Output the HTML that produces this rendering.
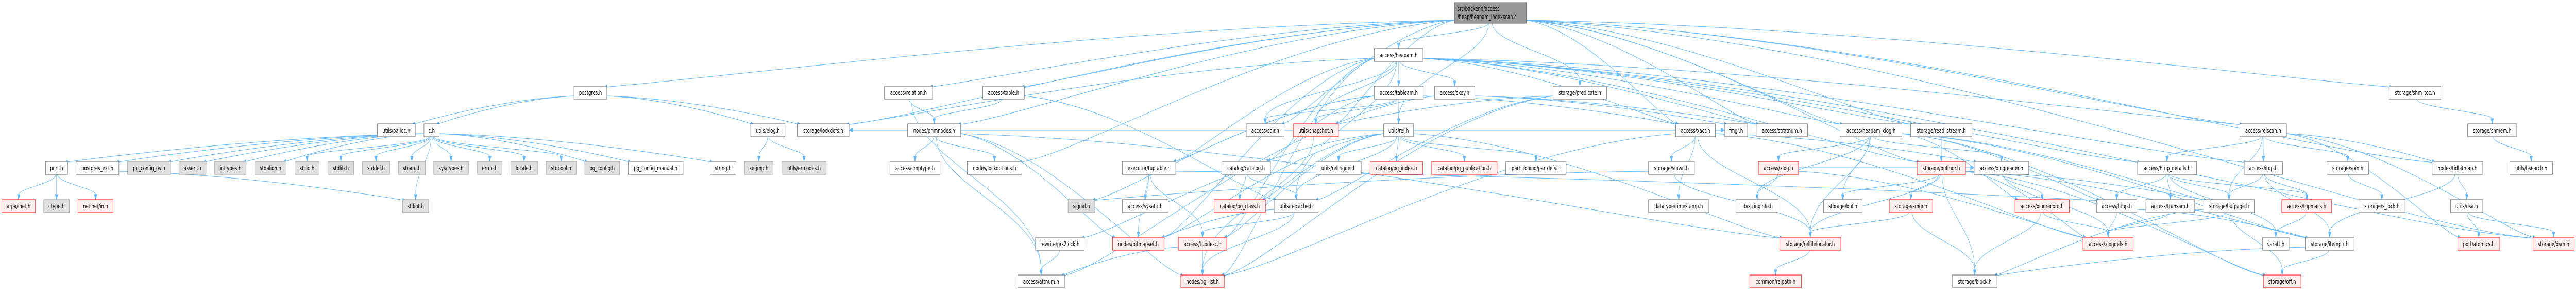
<!DOCTYPE html>
<html><head><meta charset="utf-8">
<style>
html,body{margin:0;padding:0;background:#fff;width:100vw;height:100vh;overflow:hidden;}
svg{display:block;width:100vw;height:100vh;}
text{font-family:"DejaVu Sans","Liberation Sans",sans-serif;font-size:12px;fill:#000;text-anchor:middle;}
.w{fill:#fff;stroke:#666;stroke-width:1;}
.g{fill:#e0e0e0;stroke:#999;stroke-width:1;}
.r{fill:#fff0f0;stroke:#f00;stroke-width:1;}
.t{fill:#999;stroke:#666;stroke-width:1;}
.e{fill:none;stroke:#63b8ff;stroke-width:1;}
.a{fill:#63b8ff;stroke:#63b8ff;}
</style></head>
<body>
<svg id="s" viewBox="0 0 7127 564" preserveAspectRatio="none" xmlns="http://www.w3.org/2000/svg" overflow="hidden">
<g id="edges"></g>
<g id="nodes">
<rect class="t" x="4024" y="5" width="199" height="40"/><text x="4032" y="21" style="text-anchor:start">src/backend/access</text><text x="4032" y="37" style="text-anchor:start">/heap/heapam_indexscan.c</text>
<rect class="w" x="3802" y="94" width="135" height="25"/><text x="3869.5" y="111">access/heapam.h</text>
<rect class="w" x="1588" y="167" width="91" height="25"/><text x="1633.5" y="184">postgres.h</text>
<rect class="w" x="2447" y="167" width="133" height="25"/><text x="2513.5" y="184">access/relation.h</text>
<rect class="w" x="2719" y="167" width="115" height="25"/><text x="2776.5" y="184">access/table.h</text>
<rect class="w" x="3802" y="167" width="136" height="25"/><text x="3870" y="184">access/tableam.h</text>
<rect class="w" x="3969" y="167" width="111" height="25"/><text x="4024.5" y="184">access/skey.h</text>
<rect class="w" x="4297" y="167" width="148" height="25"/><text x="4371" y="184">storage/predicate.h</text>
<rect class="w" x="6610" y="167" width="143" height="25"/><text x="6681.5" y="184">storage/shm_toc.h</text>
<rect class="w" x="1044" y="240" width="105" height="25"/><text x="1096.5" y="257">utils/palloc.h</text>
<rect class="w" x="1173" y="240" width="42" height="25"/><text x="1194" y="257">c.h</text>
<rect class="w" x="2077" y="240" width="95" height="25"/><text x="2124.5" y="257">utils/elog.h</text>
<rect class="w" x="2206" y="240" width="143" height="25"/><text x="2277.5" y="257">storage/lockdefs.h</text>
<rect class="w" x="2511" y="240" width="147" height="25"/><text x="2584.5" y="257">nodes/primnodes.h</text>
<rect class="w" x="3448" y="240" width="105" height="25"/><text x="3500.5" y="257">access/sdir.h</text>
<rect class="r" x="3578" y="240" width="125" height="25"/><text x="3640.5" y="257">utils/snapshot.h</text>
<rect class="w" x="3828" y="240" width="83" height="25"/><text x="3869.5" y="257">utils/rel.h</text>
<rect class="w" x="4636" y="240" width="110" height="25"/><text x="4691" y="257">access/xact.h</text>
<rect class="w" x="4771" y="240" width="64" height="25"/><text x="4803" y="257">fmgr.h</text>
<rect class="w" x="4859" y="240" width="142" height="25"/><text x="4930" y="257">access/stratnum.h</text>
<rect class="w" x="5091" y="240" width="171" height="25"/><text x="5176.5" y="257">access/heapam_xlog.h</text>
<rect class="w" x="5286" y="240" width="170" height="25"/><text x="5371" y="257">storage/read_stream.h</text>
<rect class="w" x="6197" y="240" width="129" height="25"/><text x="6261.5" y="257">access/relscan.h</text>
<rect class="w" x="6827" y="240" width="136" height="25"/><text x="6895" y="257">storage/shmem.h</text>
<rect class="w" x="126" y="313" width="61" height="25"/><text x="156.5" y="330">port.h</text>
<rect class="w" x="210" y="313" width="119" height="25"/><text x="269.5" y="330">postgres_ext.h</text>
<rect class="g" x="353" y="313" width="119" height="25"/><text x="412.5" y="330">pg_config_os.h</text>
<rect class="g" x="495" y="313" width="75" height="25"/><text x="532.5" y="330">assert.h</text>
<rect class="g" x="594" y="313" width="87" height="25"/><text x="637.5" y="330">inttypes.h</text>
<rect class="g" x="705" y="313" width="87" height="25"/><text x="748.5" y="330">stdalign.h</text>
<rect class="g" x="816" y="313" width="67" height="25"/><text x="849.5" y="330">stdio.h</text>
<rect class="g" x="907" y="313" width="72" height="25"/><text x="943" y="330">stdlib.h</text>
<rect class="g" x="1003" y="313" width="75" height="25"/><text x="1040.5" y="330">stddef.h</text>
<rect class="g" x="1102" y="313" width="75" height="25"/><text x="1139.5" y="330">stdarg.h</text>
<rect class="g" x="1200" y="313" width="96" height="25"/><text x="1248" y="330">sys/types.h</text>
<rect class="g" x="1321" y="313" width="68" height="25"/><text x="1355" y="330">errno.h</text>
<rect class="g" x="1413" y="313" width="74" height="25"/><text x="1450" y="330">locale.h</text>
<rect class="g" x="1511" y="313" width="83" height="25"/><text x="1552.5" y="330">stdbool.h</text>
<rect class="g" x="1618" y="313" width="96" height="25"/><text x="1666" y="330">pg_config.h</text>
<rect class="w" x="1738" y="313" width="152" height="25"/><text x="1814" y="330">pg_config_manual.h</text>
<rect class="w" x="1965" y="313" width="71" height="25"/><text x="2000.5" y="330">string.h</text>
<rect class="g" x="2060" y="313" width="79" height="25"/><text x="2099.5" y="330">setjmp.h</text>
<rect class="g" x="2163" y="313" width="123" height="25"/><text x="2224.5" y="330">utils/errcodes.h</text>
<rect class="w" x="2462" y="313" width="139" height="25"/><text x="2531.5" y="330">access/cmptype.h</text>
<rect class="w" x="2676" y="313" width="151" height="25"/><text x="2751.5" y="330">nodes/lockoptions.h</text>
<rect class="w" x="3105" y="313" width="148" height="25"/><text x="3179" y="330">executor/tuptable.h</text>
<rect class="w" x="3380" y="313" width="135" height="25"/><text x="3447.5" y="330">catalog/catalog.h</text>
<rect class="w" x="3641" y="313" width="125" height="25"/><text x="3703.5" y="330">utils/reltrigger.h</text>
<rect class="r" x="3791" y="313" width="145" height="25"/><text x="3863.5" y="330">catalog/pg_index.h</text>
<rect class="r" x="3961" y="313" width="181" height="25"/><text x="4051.5" y="330">catalog/pg_publication.h</text>
<rect class="w" x="4166" y="313" width="167" height="25"/><text x="4249.5" y="330">partitioning/partdefs.h</text>
<rect class="w" x="4561" y="313" width="127" height="25"/><text x="4624.5" y="330">storage/sinval.h</text>
<rect class="r" x="4865" y="313" width="111" height="25"/><text x="4920.5" y="330">access/xlog.h</text>
<rect class="r" x="5304" y="313" width="134" height="25"/><text x="5371" y="330">storage/bufmgr.h</text>
<rect class="w" x="5462" y="313" width="151" height="25"/><text x="5537.5" y="330">access/xlogreader.h</text>
<rect class="w" x="5914" y="313" width="163" height="25"/><text x="5995.5" y="330">access/htup_details.h</text>
<rect class="w" x="6209" y="313" width="106" height="25"/><text x="6262" y="330">access/itup.h</text>
<rect class="w" x="6438" y="313" width="115" height="25"/><text x="6495.5" y="330">storage/spin.h</text>
<rect class="w" x="6729" y="313" width="140" height="25"/><text x="6799" y="330">nodes/tidbitmap.h</text>
<rect class="w" x="6944" y="313" width="118" height="25"/><text x="7003" y="330">utils/hsearch.h</text>
<rect class="r" x="5" y="387" width="93" height="25"/><text x="51.5" y="404">arpa/inet.h</text>
<rect class="g" x="121" y="387" width="71" height="25"/><text x="156.5" y="404">ctype.h</text>
<rect class="r" x="216" y="387" width="97" height="25"/><text x="264.5" y="404">netinet/in.h</text>
<rect class="g" x="1114" y="387" width="72" height="25"/><text x="1150" y="404">stdint.h</text>
<rect class="g" x="2955" y="387" width="74" height="25"/><text x="2992" y="404">signal.h</text>
<rect class="w" x="3105" y="387" width="127" height="25"/><text x="3168.5" y="404">access/sysattr.h</text>
<rect class="r" x="3359" y="387" width="142" height="25"/><text x="3430" y="404">catalog/pg_class.h</text>
<rect class="w" x="3525" y="387" width="122" height="25"/><text x="3586" y="404">utils/relcache.h</text>
<rect class="w" x="4561" y="387" width="167" height="25"/><text x="4644.5" y="404">datatype/timestamp.h</text>
<rect class="w" x="4803" y="387" width="117" height="25"/><text x="4861.5" y="404">lib/stringinfo.h</text>
<rect class="w" x="5045" y="387" width="107" height="25"/><text x="5098.5" y="404">storage/buf.h</text>
<rect class="r" x="5227" y="387" width="120" height="25"/><text x="5287" y="404">storage/smgr.h</text>
<rect class="r" x="5575" y="387" width="150" height="25"/><text x="5650" y="404">access/xlogrecord.h</text>
<rect class="w" x="5801" y="387" width="111" height="25"/><text x="5856.5" y="404">access/htup.h</text>
<rect class="w" x="5937" y="387" width="135" height="25"/><text x="6004.5" y="404">access/transam.h</text>
<rect class="w" x="6097" y="387" width="140" height="25"/><text x="6167" y="404">storage/bufpage.h</text>
<rect class="r" x="6313" y="387" width="138" height="25"/><text x="6382" y="404">access/tupmacs.h</text>
<rect class="w" x="6526" y="387" width="128" height="25"/><text x="6590" y="404">storage/s_lock.h</text>
<rect class="w" x="6780" y="387" width="89" height="25"/><text x="6824.5" y="404">utils/dsa.h</text>
<rect class="w" x="2865" y="460" width="135" height="25"/><text x="2932.5" y="477">rewrite/prs2lock.h</text>
<rect class="r" x="3078" y="460" width="143" height="25"/><text x="3149.5" y="477">nodes/bitmapset.h</text>
<rect class="r" x="3260" y="460" width="134" height="25"/><text x="3327" y="477">access/tupdesc.h</text>
<rect class="r" x="4924" y="460" width="169" height="25"/><text x="5008.5" y="477">storage/relfilelocator.h</text>
<rect class="r" x="5763" y="460" width="139" height="25"/><text x="5832.5" y="477">access/xlogdefs.h</text>
<rect class="w" x="6260" y="460" width="73" height="25"/><text x="6296.5" y="477">varatt.h</text>
<rect class="w" x="6378" y="460" width="135" height="25"/><text x="6445.5" y="477">storage/itemptr.h</text>
<rect class="r" x="6800" y="460" width="116" height="25"/><text x="6858" y="477">port/atomics.h</text>
<rect class="r" x="7008" y="460" width="114" height="25"/><text x="7065" y="477">storage/dsm.h</text>
<rect class="w" x="2816" y="533" width="129" height="25"/><text x="2880.5" y="550">access/attnum.h</text>
<rect class="r" x="3267" y="533" width="120" height="25"/><text x="3327" y="550">nodes/pg_list.h</text>
<rect class="r" x="4841" y="533" width="143" height="25"/><text x="4912.5" y="550">common/relpath.h</text>
<rect class="w" x="5402" y="533" width="123" height="25"/><text x="5463.5" y="550">storage/block.h</text>
<rect class="r" x="6262" y="533" width="104" height="25"/><text x="6314" y="550">storage/off.h</text>
</g>
</svg>
<script>
(function(){
var RY=[5,94,167,240,313,387,460,533];
var N={top:[4024,4223,0],heapam:[3802,3937,1],postgres:[1588,1679,2],relation:[2447,2580,2],table:[2719,2834,2],tableam:[3802,3938,2],skey:[3969,4080,2],predicate:[4297,4445,2],shmtoc:[6610,6753,2],
palloc:[1044,1149,3],ch:[1173,1215,3],elog:[2077,2172,3],lockdefs:[2206,2349,3],primnodes:[2511,2658,3],sdir:[3448,3553,3],snapshot:[3578,3703,3],rel:[3828,3911,3],xact:[4636,4746,3],fmgr:[4771,4835,3],stratnum:[4859,5001,3],heapxlog:[5091,5262,3],readstream:[5286,5456,3],relscan:[6197,6326,3],shmem:[6827,6963,3],
port:[126,187,4],pgext:[210,329,4],pgcos:[353,472,4],assert:[495,570,4],inttypes:[594,681,4],stdalign:[705,792,4],stdio:[816,883,4],stdlib:[907,979,4],stddef:[1003,1078,4],stdarg:[1102,1177,4],systypes:[1200,1296,4],errno:[1321,1389,4],locale:[1413,1487,4],stdbool:[1511,1594,4],pgconfig:[1618,1714,4],pgcm:[1738,1890,4],string:[1965,2036,4],setjmp:[2060,2139,4],errcodes:[2163,2286,4],cmptype:[2462,2601,4],lockopt:[2676,2827,4],tuptable:[3105,3253,4],catalog:[3380,3515,4],reltrig:[3641,3766,4],pgindex:[3791,3936,4],pgpub:[3961,4142,4],partdefs:[4166,4333,4],sinval:[4561,4688,4],xlog:[4865,4976,4],bufmgr:[5304,5438,4],xlogreader:[5462,5613,4],htupd:[5914,6077,4],itup:[6209,6315,4],spin:[6438,6553,4],tidbitmap:[6729,6869,4],hsearch:[6944,7062,4],
arpa:[5,98,5],ctype:[121,192,5],netinet:[216,313,5],stdint:[1114,1186,5],signal:[2955,3029,5],sysattr:[3105,3232,5],pgclass:[3359,3501,5],relcache:[3525,3647,5],timestamp:[4561,4728,5],stringinfo:[4803,4920,5],buf:[5045,5152,5],smgr:[5227,5347,5],xlogrecord:[5575,5725,5],htup:[5801,5912,5],transam:[5937,6072,5],bufpage:[6097,6237,5],tupmacs:[6313,6451,5],slock:[6526,6654,5],dsa:[6780,6869,5],
prs2lock:[2865,3000,6],bitmapset:[3078,3221,6],tupdesc:[3260,3394,6],relfileloc:[4924,5093,6],xlogdefs:[5763,5902,6],varatt:[6260,6333,6],itemptr:[6378,6513,6],atomics:[6800,6916,6],dsm:[7008,7122,6],
attnum:[2816,2945,7],pglist:[3267,3387,7],relpath:[4841,4984,7],block:[5402,5525,7],off:[6262,6366,7]};
var E="top>postgres top>relation top>table top>heapam top>predicate top>relscan top>shmtoc top>lockdefs top>primnodes top>lockopt top>tidbitmap top>dsm top>sdir top>snapshot top>rel top>xact top>bufmgr top>heapxlog top>readstream top>stratnum "+
"postgres>ch postgres>palloc postgres>elog postgres>lockdefs "+
"ch>port ch>pgext ch>pgcos ch>assert ch>inttypes ch>stdalign ch>stdio ch>stdlib ch>stddef ch>stdarg ch>systypes ch>errno ch>locale ch>stdbool ch>pgconfig ch>pgcm ch>string ch>stdint pgext>stdint "+
"port>arpa port>ctype port>netinet elog>setjmp elog>errcodes "+
"relation>primnodes relation>attnum table>primnodes table>relcache primnodes>cmptype primnodes>lockopt primnodes>attnum primnodes>pglist primnodes>bitmapset primnodes>relfileloc prs2lock>attnum "+
"heapam>tableam heapam>skey heapam>snapshot heapam>relscan heapam>xact heapam>lockdefs heapam>relcache heapam>sdir heapam>pglist heapam>bitmapset heapam>tupdesc heapam>tuptable heapam>stratnum heapam>heapxlog heapam>bufmgr heapam>readstream heapam>htupd heapam>itup heapam>dsm "+
"tableam>rel tableam>snapshot tableam>sdir tableam>xact tableam>tuptable tableam>signal tableam>catalog "+
"rel>reltrig rel>pgindex rel>pgpub rel>partdefs rel>relcache rel>tupdesc rel>pgclass rel>fmgr rel>relfileloc rel>prs2lock rel>bitmapset rel>lockdefs "+
"skey>stratnum skey>attnum skey>fmgr tuptable>sysattr tuptable>tupdesc tuptable>bitmapset tuptable>htup catalog>pgclass catalog>relcache "+
"relcache>bitmapset relcache>tupdesc relcache>pglist tupdesc>pglist tupdesc>attnum snapshot>pglist "+
"predicate>relcache predicate>snapshot predicate>pglist xact>sinval xact>timestamp xact>xlogreader xact>pglist xact>relfileloc xact>xlogdefs sinval>signal sinval>relfileloc "+
"heapxlog>stringinfo heapxlog>buf heapxlog>relfileloc heapxlog>xlogreader heapxlog>htup heapxlog>xlogrecord heapxlog>bufpage heapxlog>xlog heapxlog>itemptr heapxlog>off "+
"xlog>stringinfo xlog>xlogdefs xlog>xlogreader readstream>bufmgr bufmgr>buf bufmgr>relfileloc bufmgr>smgr bufmgr>block bufmgr>bufpage bufmgr>xlogdefs bufmgr>off bufmgr>itemptr "+
"smgr>relfileloc smgr>block relfileloc>relpath xlogreader>xlogrecord xlogreader>xlogdefs xlogrecord>block xlogrecord>xlogdefs "+
"htupd>htup htupd>transam htupd>tupmacs htupd>varatt htupd>bufpage htup>itemptr htup>xlogdefs transam>xlogdefs "+
"relscan>itup relscan>spin relscan>htupd relscan>bufpage relscan>tidbitmap relscan>dsm relscan>atomics itup>bufpage itup>tupmacs itup>itemptr spin>slock "+
"bufpage>off bufpage>block bufpage>xlogdefs tupmacs>varatt itemptr>off itemptr>block shmtoc>shmem shmem>hsearch tidbitmap>dsa tidbitmap>itemptr dsa>atomics dsa>dsm";
var g=document.getElementById('edges'),out='';
E.split(/\s+/).forEach(function(p){if(!p)return;var q=p.split('>'),a=N[q[0]],b=N[q[1]];if(!a||!b)return;
 var ah=(a[2]==0?40:25),sx,sy,ex,ey,c1x,c1y,c2x,c2y;
 if(b[2]>a[2]){
  var acx=(a[0]+a[1])/2,bcx=(b[0]+b[1])/2,aw=a[1]-a[0];
  sx=acx+Math.max(-aw/2+4,Math.min(aw/2-4,(bcx-acx)*0.02));sy=RY[a[2]]+ah;
  ex=bcx;ey=RY[b[2]];
  var dy=ey-sy;
  if(Math.abs(bcx-acx)>400){
   sx=bcx>acx?a[1]:a[0];sy=RY[a[2]]+ah-6;
   ex=bcx+(bcx>acx?-(b[1]-b[0])/2+10:(b[1]-b[0])/2-10);ey=RY[b[2]]+2;
   c1x=sx+(ex-sx)*0.4;c1y=sy+dy*0.1;c2x=sx+(ex-sx)*0.85;c2y=ey-Math.min(20,dy*0.3);
  }else{c1x=sx;c1y=sy+dy*0.35;c2x=ex;c2y=ey-dy*0.45;}
 }else{
  if(b[0]>a[1]){sx=a[1];ex=b[0];}else{sx=a[0];ex=b[1];}
  sy=RY[a[2]]+12;ey=RY[b[2]]+12;c1x=sx+(ex-sx)/3;c1y=sy;c2x=sx+2*(ex-sx)/3;c2y=ey;
 }
 var ux=ex-c2x,uy=ey-c2y,L=Math.sqrt(ux*ux+uy*uy)||1;ux/=L;uy/=L;
 var bx=ex-ux*10,by=ey-uy*10;
 out+='<path class="e" d="M'+sx.toFixed(1)+','+sy.toFixed(1)+' C'+c1x.toFixed(1)+','+c1y.toFixed(1)+' '+c2x.toFixed(1)+','+c2y.toFixed(1)+' '+bx.toFixed(1)+','+by.toFixed(1)+'"/>';
 out+='<polygon class="a" points="'+ex.toFixed(1)+','+ey.toFixed(1)+' '+(bx-uy*3.5).toFixed(1)+','+(by+ux*3.5).toFixed(1)+' '+(bx+uy*3.5).toFixed(1)+','+(by-ux*3.5).toFixed(1)+'"/>';
});
g.innerHTML=out;
})();
</script>
</body></html>
